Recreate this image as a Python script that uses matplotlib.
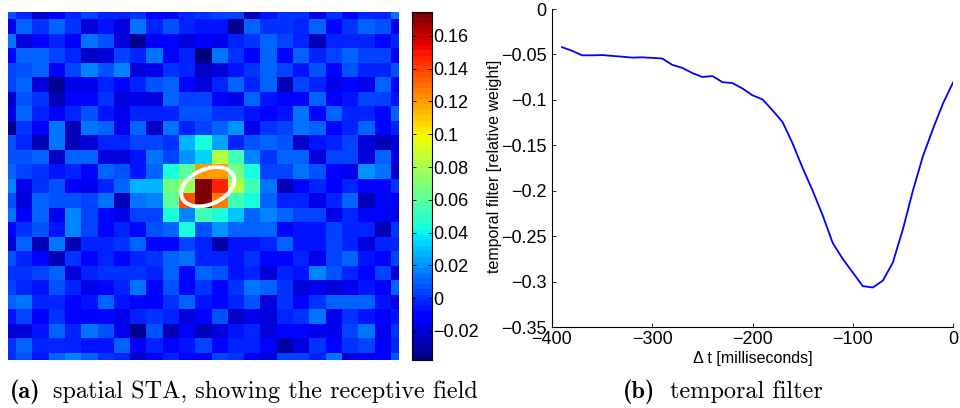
import numpy as np
import matplotlib
matplotlib.use('Agg')
from matplotlib import pyplot as plt

plt.rcParams['font.family'] = ['Liberation Sans', 'DejaVu Sans']

# spatial STA, one row per line, in thousandths
sta_rows = [
    [7, -2, -22, -8, -3, 5, -2, -2, 0, -8, -9, -3, 0, 5, 5, -25, -6, 0, 0, -17, 0, -8, -2, -2, 15],
    [-15, 11, 1, 11, 0, -21, -6, -18, 13, -3, 8, -3, -6, -6, -32, 11, 1, 0, -4, 9, -8, 1, 11, 8, -15],
    [15, -20, -8, -3, -12, 13, 8, -18, -32, -14, -10, -19, -14, -15, -2, 1, 10, 5, -2, -25, -2, -2, -3, -8, -3],
    [-8, 11, 11, 3, -3, -22, -21, 3, -4, 13, -10, -2, -37, 13, 0, -12, 11, -8, 10, -4, 3, 11, 5, 3, -10],
    [3, 8, 10, -12, 3, 17, 8, 18, -20, -17, 1, -3, -22, -21, -6, 1, 10, 3, -6, 7, -9, 8, -3, -3, 7],
    [3, 10, -21, -32, -17, -15, -4, -10, -3, 7, 10, -9, -21, -4, 10, -4, 11, -25, 5, -4, -15, -10, -17, 11, -10],
    [-22, 7, 1, -25, -8, -8, 0, -20, -15, -18, 11, 5, 5, -9, -15, 10, -6, -9, -9, 10, -14, -6, 5, 5, -6],
    [-15, 10, -4, -14, -3, 8, -6, -15, -4, -4, -4, 8, 8, 1, 0, -6, -9, -6, 13, -9, 10, -4, -4, -9, 11],
    [-34, 0, -12, 14, -25, 13, 11, -15, 10, -22, 14, -4, 5, 10, 20, -15, 0, 5, 13, 11, -9, -3, 11, -11, -4],
    [7, -3, -26, 14, -26, -21, -4, -2, 5, 5, 0, 26, 42, 25, -4, 7, 10, 8, -22, -6, -3, 3, -21, -25, -21],
    [7, 7, 11, -22, 10, 10, -21, -21, -6, 13, 5, 21, 33, 83, 55, 17, 0, 11, 11, -21, 5, 3, -20, 11, -15],
    [10, 5, 0, -6, -3, -10, 10, 7, -6, 11, 42, 60, 120, 121, 68, 42, 5, 5, 13, 7, -9, -17, 20, 14, -22],
    [17, -15, 1, 7, -14, -17, -3, 11, 26, 26, 68, 76, 175, 148, 83, 55, 14, -25, -9, -3, -14, -3, -9, -9, 0],
    [7, -18, 11, 7, 7, 3, 15, -26, 13, 17, 60, 137, 175, 125, 53, 42, 10, -3, -4, -15, -4, 10, -25, -10, -14],
    [15, -14, 10, -15, 16, 3, -8, -17, 5, 5, 42, 17, 55, 42, 30, 10, 16, 11, 5, 5, -15, -3, -9, -10, -15],
    [-9, 1, 7, -6, 17, 3, -9, -3, -9, 8, 11, 42, 8, 21, 10, 11, 10, -10, -6, -6, 5, -3, -4, -25, 0],
    [-18, 11, -26, 13, -26, -4, -4, 0, 10, -9, -9, 3, -2, -31, -6, -6, -3, 11, -6, -6, 5, -3, -20, -4, -4],
    [8, -3, -10, -25, 1, -11, -4, -10, -3, 0, 11, 14, -4, -2, -6, 1, -8, -9, -4, -15, 3, 10, -6, -10, 5],
    [0, 0, 5, 10, -20, -3, 0, 0, 0, -3, 11, -10, 11, 7, -6, -3, -21, -2, -6, 17, 7, -3, -10, 3, -20],
    [3, -3, -6, 7, -3, -15, -10, -3, 13, -14, 7, -10, 1, -9, 1, 13, 11, 0, -21, -17, -21, -15, -6, -14, 11],
    [10, 13, -4, -3, -9, -6, 10, -6, -10, -14, 0, 10, -6, -9, -3, 7, -21, 1, -10, 0, 11, 10, 10, -6, -15],
    [-6, 3, -14, 0, -10, -14, -10, -15, -3, 0, -3, -21, -10, 7, -22, -15, -21, -3, 0, 15, -15, 1, -6, -14, -6],
    [-19, -19, -6, 10, -2, 13, 7, -15, -32, 7, -26, -10, -26, -18, -6, -3, -18, -10, -10, -15, -15, 5, 13, -15, 0],
    [0, 10, -3, -2, -2, -6, -6, 11, -14, -4, -10, -6, 5, -10, -3, -3, -11, -30, -19, 0, -9, 0, 3, -14, -3],
    [0, 8, -6, 11, 17, 10, 0, -2, -22, -10, -2, -10, -11, 5, 1, -14, -21, 5, 5, -3, 15, -20, -17, -9, 8],
]

# temporal filter
dt_ms = [-390, -380, -370, -360, -350, -340, -330, -320, -310, -300, -290, -280, -270, -260,
         -250, -240, -230, -220, -210, -200, -190, -180, -170, -160, -150, -140, -130, -120,
         -110, -100, -90, -80, -70, -60, -50, -40, -30, -20, -10, 0]
weight = [-0.042, -0.046, -0.051, -0.051, -0.0507, -0.0516, -0.0525, -0.0535, -0.0532, -0.0538,
          -0.0545, -0.0615, -0.0648, -0.0705, -0.0748, -0.0738, -0.0805, -0.0815, -0.0875, -0.095,
          -0.0995, -0.1115, -0.1245, -0.148, -0.175, -0.2, -0.227, -0.2575, -0.275, -0.29,
          -0.305, -0.3065, -0.299, -0.279, -0.2425, -0.2, -0.162, -0.132, -0.104, -0.081]

cbar_ticks = [-0.02, 0, 0.02, 0.04, 0.06, 0.08, 0.1, 0.12, 0.14, 0.16]
cbar_labels = ['\u22120.02', '0', '0.02', '0.04', '0.06', '0.08', '0.1', '0.12', '0.14', '0.16']
x_ticks = [-400, -300, -200, -100, 0]
x_labels = ['\u2212400', '\u2212300', '\u2212200', '\u2212100', '0']
y_ticks = [0, -0.05, -0.1, -0.15, -0.2, -0.25, -0.3, -0.35]
y_labels = ['0', '\u22120.05', '\u22120.1', '\u22120.15', '\u22120.2', '\u22120.25', '\u22120.3', '\u22120.35']

W, H = 960, 408


def px_axes(fig, left, top, right, bottom):
    return fig.add_axes([left / W, 1 - bottom / H, (right - left) / W, (bottom - top) / H])


fig = plt.figure(figsize=(W / 100, H / 100), dpi=100)

sta = np.array(sta_rows) / 1000.0
vmin, vmax = -0.0377, 0.1746
cmap = plt.get_cmap('jet', 64)

ax = px_axes(fig, 8, 12, 399, 360)
ax.imshow(sta, cmap=cmap, vmin=vmin, vmax=vmax, aspect='auto', interpolation='nearest',
          extent=(0.5, 25.5, 25.5, 0.5))
ax.set_xlim(1, 25)
ax.set_ylim(25, 1)
ax.axis('off')

# white ellipse, sizes in pixels of the figure
t = np.linspace(0, 2 * np.pi, 200)
th = np.deg2rad(24)
ex = 28 * np.cos(t) * np.cos(th) - 17.5 * np.sin(t) * np.sin(th)
ey = 28 * np.cos(t) * np.sin(th) + 17.5 * np.sin(t) * np.cos(th)
ax.plot(13.26 + ex * 24 / 391, 13.05 - ey * 24 / 348, color='white', linewidth=2.8)

cax = px_axes(fig, 412, 12, 432, 360)
levels = np.linspace(vmin, vmax, 65)
cax.pcolormesh([0, 1], levels, ((levels[:-1] + levels[1:]) / 2)[:, None], cmap=cmap, vmin=vmin, vmax=vmax)
cax.set_xticks([])
cax.yaxis.tick_right()
cax.set_yticks(cbar_ticks)
cax.set_yticklabels(cbar_labels)
cax.tick_params(axis='y', direction='in', length=3, width=0.6, labelsize=13, pad=1, left=True, right=True)
for s in cax.spines.values():
    s.set_linewidth(0.8)

ax2 = px_axes(fig, 552, 9, 953, 327)
ax2.plot(dt_ms, weight, color='#0000ff', linewidth=1.3)
ax2.set_xlim(-400, 0)
ax2.set_ylim(-0.35, 0)
ax2.set_xticks(x_ticks)
ax2.set_xticklabels(x_labels)
ax2.set_yticks(y_ticks)
ax2.set_yticklabels(y_labels)
ax2.spines['top'].set_visible(False)
ax2.spines['right'].set_visible(False)
ax2.tick_params(axis='x', direction='in', length=3, width=0.6, labelsize=13, pad=3)
ax2.tick_params(axis='y', direction='in', length=3, width=0.6, labelsize=13, pad=4)
ax2.set_xlabel('\u0394 t [milliseconds]', fontsize=11.5, labelpad=2)
ax2.set_ylabel('temporal filter [relative weight]', fontsize=11.5)
ax2.yaxis.set_label_coords(-0.125, 0.506)
for s in ax2.spines.values():
    s.set_linewidth(0.8)

fig.text(10 / W, 1 - 392 / H, '(a)', family='cmb10', fontsize=17.5, va='center')
fig.text(53 / W, 1 - 392 / H, 'spatial STA, showing the receptive field', family='cmr10', fontsize=17.5, va='center')
fig.text(623 / W, 1 - 392 / H, '(b)', family='cmb10', fontsize=17.5, va='center')
fig.text(670 / W, 1 - 392 / H, 'temporal filter', family='cmr10', fontsize=17.5, va='center')

fig.savefig('out.png', dpi=100)
